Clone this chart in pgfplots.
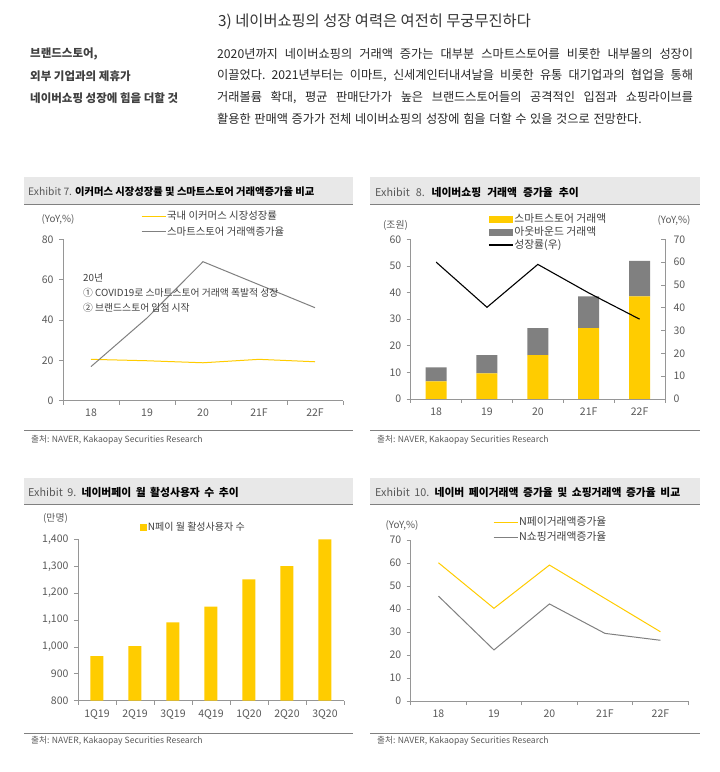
\documentclass[border=0pt]{standalone}
\usepackage{fontspec}
\setmainfont{Noto Sans CJK KR}
\usepackage{pgfplots}
\pgfplotsset{compat=1.18}
\definecolor{myyellow}{RGB}{255,204,0}
\definecolor{mygray}{RGB}{128,128,128}
\definecolor{axgray}{RGB}{150,150,150}
\definecolor{txtgray}{RGB}{89,89,89}
\definecolor{barbg}{RGB}{232,232,232}
\definecolor{headcol}{RGB}{64,64,64}
\definecolor{bodycol}{RGB}{40,40,40}
\newcommand{\fs}[1]{\fontsize{#1}{#1}\selectfont}
\newcommand{\bodyfont}{\fs{12.2}\frenchspacing\spaceskip=3.6pt plus 20pt minus 1.5pt\relax}
\pgfplotsset{
  base/.style={
    scale only axis, anchor=south west,
    axis x line*=bottom, axis y line*=left,
    axis line style={axgray, line width=0.8pt},
    tick style={axgray, line width=0.8pt},
    tick align=outside, major tick length=4pt,
    tick label style={font=\fs{10.5}, text=txtgray},
    /pgf/number format/assume math mode=true,
    yticklabel style={xshift=-2pt},
    xmin=-0.5, xmax=4.5,
    xtick={-0.5,0.5,...,4.5}, xticklabels={},
    extra x ticks={0,...,4},
    extra x tick labels={18,19,20,21F,22F},
    extra x tick style={major tick length=0pt, tick label style={yshift=-5pt}},
    legend style={draw=none, fill=none, inner sep=0pt, outer sep=0pt,
      font=\fs{10.4}, text=headcol, row sep=3pt, nodes={inner sep=1pt}},
    legend cell align=left,
  },
  mylinelegend/.style={legend image code/.code={\draw[##1] (0pt,0pt) -- (24pt,0pt);}},
  mybarlegend/.style={legend image code/.code={\fill[##1] (0pt,-3.5pt) rectangle (24pt,3.5pt);}},
  mysqlegend/.style={legend image code/.code={\fill[##1] (0pt,-3.5pt) rectangle (7pt,3.5pt);}},
}
\begin{document}
\begin{tikzpicture}
\useasboundingbox (0pt,0pt) rectangle (720pt,772pt);
\fill[white] (0pt,0pt) rectangle (720pt,772pt);
% ---------- header text ----------
\node[anchor=west, text=headcol!80!black, inner sep=0pt] at (218pt,750pt) {\fs{15.3}\spaceskip=3.5pt\relax 3)\ 네이버쇼핑의 성장 여력은 여전히 무궁무진하다};
\node[anchor=west, text=headcol, inner sep=0pt] at (30pt,718pt) {\fs{11.5}\bfseries 브랜드스토어,};
\node[anchor=west, text=headcol, inner sep=0pt] at (30pt,696pt) {\fs{11.5}\bfseries 외부 기업과의 제휴가};
\node[anchor=west, text=headcol, inner sep=0pt] at (30pt,674pt) {\fs{11.5}\bfseries 네이버쇼핑 성장에 힘을 더할 것};
\node[anchor=west, text=bodycol, inner sep=0pt] at (217pt,718pt) {\bodyfont\makebox[476pt][s]{2020년까지 네이버쇼핑의 거래액 증가는 대부분 스마트스토어를 비롯한 내부몰의 성장이}};
\node[anchor=west, text=bodycol, inner sep=0pt] at (217pt,696pt) {\bodyfont\makebox[476pt][s]{이끌었다. 2021년부터는 이마트, 신세계인터내셔날을 비롯한 유통 대기업과의 협업을 통해}};
\node[anchor=west, text=bodycol, inner sep=0pt] at (217pt,674pt) {\bodyfont\makebox[476pt][s]{거래볼륨 확대, 평균 판매단가가 높은 브랜드스토어들의 공격적인 입점과 쇼핑라이브를}};
\node[anchor=west, text=bodycol, inner sep=0pt] at (217pt,653pt) {\bodyfont 활용한 판매액 증가가 전체 네이버쇼핑의 성장에 힘을 더할 수 있을 것으로 전망한다.};
% ---------- title bars ----------
\fill[barbg] (24pt,567pt) rectangle (353pt,595pt);
\draw[mygray, line width=1pt] (24pt,567pt) -- (353pt,567pt);
\fill[barbg] (370pt,567pt) rectangle (700pt,595pt);
\draw[mygray, line width=1pt] (370pt,567pt) -- (700pt,567pt);
\fill[barbg] (24pt,267pt) rectangle (353pt,294pt);
\draw[mygray, line width=1pt] (24pt,267pt) -- (353pt,267pt);
\fill[barbg] (370pt,267pt) rectangle (700pt,294pt);
\draw[mygray, line width=1pt] (370pt,267pt) -- (700pt,267pt);
\node[anchor=west, inner sep=0pt] at (28pt,580pt) {\fs{10.3}\textcolor{txtgray}{Exhibit 7.} \textbf{이커머스 시장성장률 및 스마트스토어 거래액증가율 비교}};
\node[anchor=west, inner sep=0pt] at (375pt,580pt) {\fs{10.8}\spaceskip=6pt\relax\textcolor{txtgray}{Exhibit 8.} \textbf{네이버쇼핑 거래액 증가율 추이}};
\node[anchor=west, inner sep=0pt] at (28pt,280pt) {\fs{10.8}\spaceskip=4.5pt\relax\textcolor{txtgray}{Exhibit 9.} \textbf{네이버페이 월 활성사용자 수 추이}};
\node[anchor=west, inner sep=0pt] at (375pt,280pt) {\fs{10.8}\spaceskip=4.5pt\relax\textcolor{txtgray}{Exhibit 10.} \textbf{네이버 페이거래액 증가율 및 쇼핑거래액 증가율 비교}};
% ---------- source lines ----------
\draw[mygray, line width=0.8pt] (24pt,342pt) -- (353pt,342pt);
\draw[mygray, line width=0.8pt] (370pt,342pt) -- (700pt,342pt);
\draw[mygray, line width=0.8pt] (24pt,39pt) -- (353pt,39pt);
\draw[mygray, line width=0.8pt] (370pt,39pt) -- (700pt,39pt);
\node[anchor=west, inner sep=0pt, text=txtgray] at (31pt,332pt) {\fs{8.6}출처: NAVER, Kakaopay Securities Research};
\node[anchor=west, inner sep=0pt, text=txtgray] at (377pt,332pt) {\fs{8.6}출처: NAVER, Kakaopay Securities Research};
\node[anchor=west, inner sep=0pt, text=txtgray] at (31pt,31pt) {\fs{8.6}출처: NAVER, Kakaopay Securities Research};
\node[anchor=west, inner sep=0pt, text=txtgray] at (377pt,31pt) {\fs{8.6}출처: NAVER, Kakaopay Securities Research};
% ---------- unit labels ----------
\node[text=txtgray, inner sep=0pt] at (58pt,553pt) {\fs{9.8}(YoY,\%)};
\node[text=txtgray, inner sep=0pt] at (395.5pt,547pt) {\fs{9.8}(조원)};
\node[text=txtgray, inner sep=0pt] at (674pt,552pt) {\fs{9.8}(YoY,\%)};
\node[text=txtgray, inner sep=0pt] at (55.5pt,254pt) {\fs{9.8}(만명)};
\node[text=txtgray, inner sep=0pt] at (402pt,247pt) {\fs{9.8}(YoY,\%)};
% ---------- Exhibit 7 ----------
\begin{axis}[base, at={(63pt,371.3pt)}, width=280pt, height=161.4pt,
  ymin=0, ymax=80, ytick={0,20,...,80},
  legend style={at={(axis description cs:0.279,1.18)}, anchor=north west, row sep=3.5pt}]
\addplot[myyellow, line width=1pt, mylinelegend] coordinates {(0,20.5) (1,19.8) (2,18.8) (3,20.5) (4,19.3)};
\addlegendentry{국내 이커머스 시장성장률}
\addplot[mygray, line width=1pt, mylinelegend] coordinates {(0,16.9) (1,41) (2,68.9) (3,57.5) (4,46.1)};
\addlegendentry{스마트스토어 거래액증가율}
\end{axis}
\node[anchor=west, inner sep=0pt, text=headcol] at (83pt,494pt) {\fs{9.8}20년};
\node[anchor=west, inner sep=0pt, text=headcol] at (83pt,479pt) {\fs{9.8}① COVID19로 스마트스토어 거래액 폭발적 성장};
\node[anchor=west, inner sep=0pt, text=headcol] at (83pt,464pt) {\fs{9.8}② 브랜드스토어 입점 시작};
% ---------- Exhibit 8 ----------
\begin{axis}[base, at={(410.7pt,373pt)}, width=254.3pt, height=159.7pt,
  ymin=0, ymax=60, ytick={0,10,...,60}, ybar stacked, bar width=21pt,
  legend style={at={(axis description cs:0.305,1.165)}, anchor=north west, row sep=0.5pt, font=\fs{10.8}}]
\addplot[fill=myyellow, draw=none, mybarlegend] coordinates {(0,6.6) (1,9.6) (2,16.5) (3,26.6) (4,38.6)};
\addlegendentry{스마트스토어 거래액}
\addplot[fill=mygray, draw=none, mybarlegend] coordinates {(0,5.3) (1,6.9) (2,10.1) (3,12.0) (4,13.3)};
\addlegendentry{아웃바운드 거래액}
\addlegendimage{black, line width=1.1pt, mylinelegend}
\addlegendentry{성장률(우)}
\end{axis}
\begin{axis}[scale only axis, anchor=south west, at={(410.7pt,373pt)}, width=254.3pt, height=159.7pt,
  xmin=-0.5, xmax=4.5, ymin=0, ymax=70, ytick={0,10,...,70},
  axis x line=none, axis y line*=right,
  axis line style={axgray, line width=0.8pt},
  tick style={axgray, line width=0.8pt}, tick align=inside, major tick length=4pt,
  tick label style={font=\fs{10.5}, text=txtgray},
  yticklabel style={xshift=5pt},
  /pgf/number format/assume math mode=true]
\addplot[black, line width=1.1pt] coordinates {(0,60) (1,40.2) (2,59) (3,46.5) (4,35)};
\end{axis}
% ---------- Exhibit 9 ----------
\begin{axis}[base, at={(78pt,71.3pt)}, width=266pt, height=161.4pt,
  xmin=-0.5, xmax=6.5, xtick={-0.5,0.5,...,6.5},
  extra x ticks={0,...,6},
  extra x tick labels={1Q19,2Q19,3Q19,4Q19,1Q20,2Q20,3Q20},
  ymin=800, ymax=1400, ytick={800,900,...,1400},
  /pgf/number format/1000 sep={,},
  ybar, bar width=13pt,
  legend style={at={(axis description cs:0.233,1.11)}, anchor=north west, font=\fs{10}}]
\addplot[fill=myyellow, draw=none, mysqlegend] coordinates {(0,966) (1,1003) (2,1091) (3,1150) (4,1251) (5,1300) (6,1400)};
\addlegendentry{N페이 월 활성사용자 수}
\end{axis}
% ---------- Exhibit 10 ----------
\begin{axis}[base, at={(410.7pt,71pt)}, width=277.5pt, height=161pt,
  ymin=0, ymax=70, ytick={0,10,...,70},
  legend style={at={(axis description cs:0.297,1.15)}, anchor=north west, font=\fs{10.8}, row sep=2.5pt}]
\addplot[myyellow, line width=1pt, mylinelegend] coordinates {(0,60.1) (1,40.3) (2,59.1) (3,44.6) (4,30.1)};
\addlegendentry{N페이거래액증가율}
\addplot[mygray, line width=1pt, mylinelegend] coordinates {(0,45.6) (1,22.2) (2,42.2) (3,29.4) (4,26.4)};
\addlegendentry{N쇼핑거래액증가율}
\end{axis}
\end{tikzpicture}
\end{document}
